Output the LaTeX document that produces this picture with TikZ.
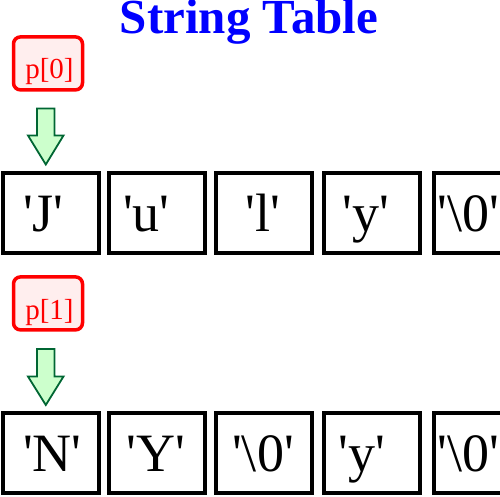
\documentclass[tikz,border=0pt]{standalone}
\usepackage{fontspec}
\setmainfont{Liberation Serif}
\definecolor{ptrred}{HTML}{FF0000}
\definecolor{ptrfill}{HTML}{FFEEEE}
\definecolor{arrfill}{HTML}{CCFFCC}
\definecolor{arrline}{HTML}{006633}
\definecolor{titleblue}{HTML}{0000FF}
\newcommand{\sq}{\textquotesingle}
\tikzset{
  cellbox/.style={draw=black, line width=4.5pt, fill=white, inner sep=0pt},
  celltext/.style={anchor=base, inner sep=0pt, font=\fontsize{54}{54}\selectfont},
  ptrbox/.style={draw=ptrred, fill=ptrfill, line width=3.5pt, rounded corners=7pt, inner sep=0pt,
     minimum width=69pt, minimum height=53pt},
  ptrtext/.style={anchor=base, inner sep=0pt, text=ptrred, font=\fontsize{29}{29}\selectfont},
  downarrow/.style={draw=arrline, fill=arrfill, line width=1.8pt, line join=miter},
  titletext/.style={anchor=base, inner sep=0pt, text=titleblue, font=\bfseries\fontsize{49}{49}\selectfont}
}
\begin{document}
\begin{tikzpicture}[x=1pt,y=-1pt]
\useasboundingbox (0,0) rectangle (500,497);
\clip (0,0) rectangle (500,497);
\fill[white] (0,0) rectangle (500,497);
\node[titletext] (title) at (249,34) {String Table};
% row 1
\node[ptrbox] (p0) at (48,63.4) {};
\node[ptrtext] (p0t) at (49.5,79) {p[0]};
\draw[downarrow] (37,108.5) -- (54.5,108.5) -- (54.5,135.5) -- (63.5,135.5) -- (45.8,164.5) -- (28,135.5) -- (37,135.5) -- cycle;
\foreach \nm/\xa/\xb in {a1/3.2/98.8, a2/109.2/204.8, a3/216.2/311.8, a4/324.2/419.8, a5/434.2/504}{
  \path[cellbox] (\xa,172.9) rectangle (\xb,252.8) coordinate (\nm);
}
\node[celltext] (t11) at (43.5,231) {\sq J\sq};
\node[celltext] (t12) at (146.5,231) {\sq u\sq};
\node[celltext] (t13) at (263,231) {\sq l\sq};
\node[celltext] (t14) at (366,231) {\sq y\sq};
\node[celltext] (t15) at (468.5,231) {\sq\textbackslash 0\sq};
% row 2
\node[ptrbox] (p1) at (48,303.4) {};
\node[ptrtext] (p1t) at (49.5,319) {p[1]};
\draw[downarrow] (37,349) -- (54.5,349) -- (54.5,376.5) -- (63.5,376.5) -- (45.8,405) -- (28,376.5) -- (37,376.5) -- cycle;
\foreach \nm/\xa/\xb in {b1/3.2/98.8, b2/109.2/204.8, b3/216.2/311.8, b4/324.2/419.8, b5/434.2/504}{
  \path[cellbox] (\xa,412.9) rectangle (\xb,492.8) coordinate (\nm);
}
\node[celltext] (t21) at (52.5,471.5) {\sq N\sq};
\node[celltext] (t22) at (156,471.5) {\sq Y\sq};
\node[celltext] (t23) at (263,471.5) {\sq\textbackslash 0\sq};
\node[celltext] (t24) at (362,471.5) {\sq y\sq};
\node[celltext] (t25) at (468.7,471.5) {\sq\textbackslash 0\sq};
\end{tikzpicture}
\end{document}
